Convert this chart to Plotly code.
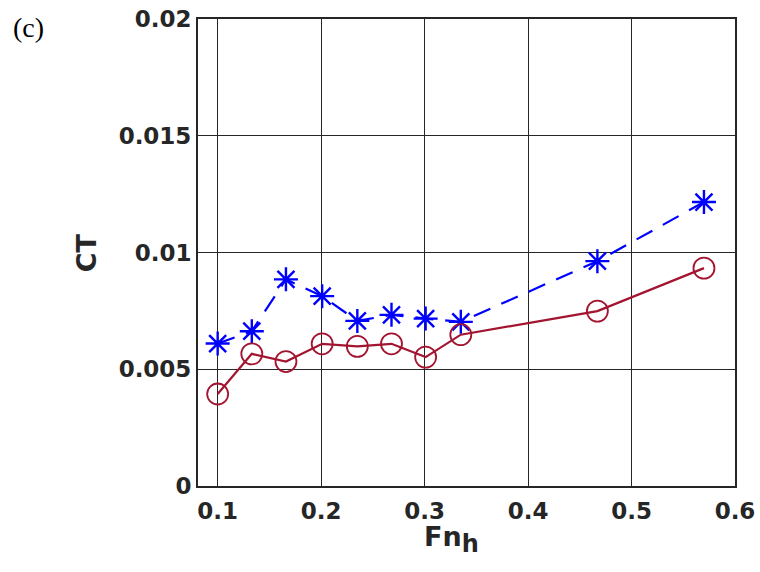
import plotly.graph_objects as go

# Froude number (depth based)
fn_h = [0.100, 0.133, 0.166, 0.201, 0.235, 0.268, 0.301, 0.335, 0.467, 0.570]

# Total resistance coefficient for the two cases
ct_star = [0.00610, 0.00663, 0.00885, 0.00813, 0.00707, 0.00733, 0.00717, 0.00703, 0.00963, 0.01216]
ct_circle = [0.00394, 0.00566, 0.00533, 0.00609, 0.00598, 0.00609, 0.00552, 0.00648, 0.00749, 0.00933]

x_ticks = [0.1, 0.2, 0.3, 0.4, 0.5, 0.6]
x_ticktext = ["0.1", "0.2", "0.3", "0.4", "0.5", "0.6"]
y_ticks = [0, 0.005, 0.01, 0.015, 0.02]
y_ticktext = ["0", "0.005", "0.01", "0.015", "0.02"]

SANS = "DejaVu Sans, Arial, sans-serif"
INK = "#262626"
tick_font = dict(family=SANS, size=23, color=INK)

fig = go.Figure()

fig.add_trace(go.Scatter(
    x=fn_h, y=ct_star, mode="lines+markers",
    line=dict(color="#0000FF", width=2.2, dash="18px,12px"),
    marker=dict(symbol="asterisk-open", size=20, color="#0000FF",
                line=dict(color="#0000FF", width=2.4)),
    showlegend=False,
))

fig.add_trace(go.Scatter(
    x=fn_h, y=ct_circle, mode="lines+markers",
    line=dict(color="#A2142F", width=2.2),
    marker=dict(symbol="circle-open", size=21, color="#A2142F",
                line=dict(color="#A2142F", width=1.8)),
    showlegend=False,
))

axis_common = dict(
    showgrid=True, gridcolor=INK, gridwidth=1.3,
    showline=True, linecolor=INK, linewidth=2, mirror=True,
    ticks="inside", ticklen=5, tickcolor=INK,
    zeroline=False, tickfont=tick_font, automargin=False,
)

fig.update_xaxes(
    range=[0.081, 0.6], tickvals=x_ticks,
    ticktext=["<b>%s</b>" % t for t in x_ticktext],
    ticklabelstandoff=3,
    **axis_common,
)
fig.update_yaxes(
    range=[0, 0.02], tickvals=y_ticks,
    ticktext=["<b>%s</b>" % t for t in y_ticktext],
    **axis_common,
)

# axis titles
fig.add_annotation(
    text="<b>Fn<sub><span style='font-size:24px'>h</span></sub></b>",
    xref="paper", yref="paper",
    x=0.472, y=-0.07, xanchor="center", yanchor="top", showarrow=False,
    font=dict(family=SANS, size=27, color=INK),
)
fig.add_annotation(
    text="<b>CT</b>", xref="paper", yref="paper",
    x=-0.207, y=0.5, xanchor="center", yanchor="middle", showarrow=False,
    textangle=-90, font=dict(family=SANS, size=27, color=INK),
)

fig.add_annotation(
    text="(c)", xref="paper", yref="paper", x=-0.348, y=1.02,
    xanchor="left", yanchor="top", showarrow=False,
    font=dict(family="Liberation Serif, Times New Roman, serif", size=28, color="#000000"),
)

fig.update_layout(
    width=760, height=572,
    margin=dict(l=198, r=25, t=19, b=86, autoexpand=False),
    paper_bgcolor="white", plot_bgcolor="white",
    font=dict(family=SANS, color=INK),
)

fig.write_html("out.html")
